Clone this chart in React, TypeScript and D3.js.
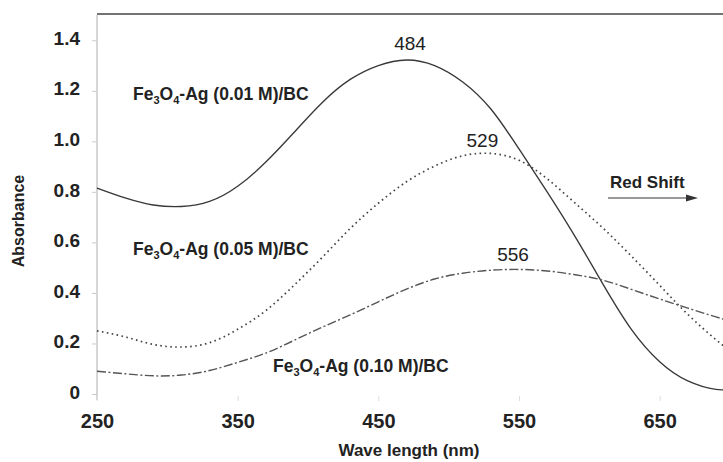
import React, { useEffect, useRef } from "react";
import * as d3 from "d3";

// wavelength grid (nm)
const wavelengths = [250, 270, 290, 310, 330, 350, 370, 390, 410, 430, 450, 470, 490, 510, 530, 550, 570, 590, 610, 630, 650, 670, 690, 700];

// absorbance
const ag001 = [0.815, 0.776, 0.748, 0.742, 0.762, 0.822, 0.918, 1.035, 1.153, 1.245, 1.3, 1.322, 1.3, 1.235, 1.128, 0.97, 0.8, 0.622, 0.432, 0.255, 0.128, 0.052, 0.018, 0.02];
const ag005 = [0.25, 0.226, 0.196, 0.186, 0.203, 0.256, 0.33, 0.43, 0.54, 0.655, 0.755, 0.84, 0.902, 0.943, 0.952, 0.925, 0.852, 0.755, 0.655, 0.545, 0.43, 0.315, 0.215, 0.172];
const ag010 = [0.09, 0.08, 0.072, 0.075, 0.093, 0.125, 0.162, 0.212, 0.264, 0.313, 0.365, 0.415, 0.455, 0.478, 0.49, 0.493, 0.487, 0.472, 0.45, 0.414, 0.376, 0.34, 0.305, 0.29];

const xTicks = [250, 350, 450, 550, 650];
const yTicks = [0, 0.2, 0.4, 0.6, 0.8, 1.0, 1.2, 1.4];

const peaks = [
  { label: "484", wl: 469, value: 1.322 },
  { label: "529", wl: 519, value: 0.952 },
  { label: "556", wl: 550, value: 0.493 },
];

const FONT = "'Liberation Sans', Arial, Helvetica, sans-serif";

function App() {
  const svgRef = useRef<SVGSVGElement>(null);
  const width = 723;
  const height = 462;

  useEffect(() => {
    const svg = d3.select(svgRef.current);
    svg.selectAll("*").remove();

    const x = d3.scaleLinear().domain([250, 700]).range([97, 730]);
    const y = d3.scaleLinear().domain([0, 1.5]).range([394, 15]);

    svg.append("rect").attr("width", width).attr("height", height).attr("fill", "#fff");

    // top frame line
    svg
      .append("line")
      .attr("x1", x(250))
      .attr("x2", width)
      .attr("y1", y(1.5) - 1)
      .attr("y2", y(1.5) - 1)
      .attr("stroke", "#444")
      .attr("stroke-width", 1.6);

    // y axis
    const yAxis = d3
      .axisLeft(y)
      .tickValues(yTicks)
      .tickSize(5)
      .tickPadding(12)
      .tickFormat((d) => (d === 0 ? "0" : d3.format(".1f")(d as number)));
    const gy = svg.append("g").attr("transform", `translate(${x(250)},0)`).call(yAxis);
    gy.select(".domain").attr("stroke", "#bbb").attr("stroke-width", 1.2).attr("d", `M0,${y(1.5)}V${y(0) + 6}`);
    gy.selectAll(".tick line").attr("stroke", "#ccc");
    gy.selectAll("text")
      .attr("font-family", FONT)
      .attr("font-size", 19)
      .attr("font-weight", "bold")
      .attr("fill", "#222")
      .attr("dy", "0.22em");

    // x axis (no visible baseline in the picture)
    const xAxis = d3.axisBottom(x).tickValues(xTicks).tickSize(5).tickPadding(13).tickFormat(d3.format("d"));
    const gx = svg.append("g").attr("transform", `translate(0,${y(0) + 2})`).call(xAxis);
    gx.select(".domain").remove();
    gx.selectAll(".tick line").attr("stroke", "#ddd");
    gx.selectAll("text")
      .attr("font-family", FONT)
      .attr("font-size", 20)
      .attr("font-weight", "bold")
      .attr("fill", "#222");

    // axis titles
    svg
      .append("text")
      .attr("transform", `translate(24,221) rotate(-90)`)
      .attr("text-anchor", "middle")
      .attr("font-family", FONT)
      .attr("font-size", 16)
      .attr("font-weight", "bold")
      .attr("fill", "#222")
      .text("Absorbance");
    svg
      .append("text")
      .attr("x", 409)
      .attr("y", 456)
      .attr("text-anchor", "middle")
      .attr("font-family", FONT)
      .attr("font-size", 17)
      .attr("font-weight", "bold")
      .attr("fill", "#222")
      .text("Wave length (nm)");

    // curves
    const line = d3
      .line<number>()
      .x((_, i) => x(wavelengths[i]))
      .y((d) => y(d))
      .curve(d3.curveNatural);

    const series = [
      { values: ag001, dash: null, color: "#383838", w: 1.35 },
      { values: ag005, dash: "1.6,3.4", color: "#444", w: 1.7 },
      { values: ag010, dash: "9,2.5,2,2.5", color: "#555", w: 1.4 },
    ];
    series.forEach((s) => {
      svg
        .append("path")
        .datum(s.values)
        .attr("d", line)
        .attr("fill", "none")
        .attr("stroke", s.color)
        .attr("stroke-width", s.w)
        .attr("stroke-dasharray", s.dash);
    });

    // peak labels
    const peakOffset = [10, 6, 8];
    peaks.forEach((p, i) => {
      svg
        .append("text")
        .attr("x", x(p.wl) + [5, 7, -6][i])
        .attr("y", y(p.value) - peakOffset[i])
        .attr("text-anchor", "middle")
        .attr("font-family", FONT)
        .attr("font-size", 19)
        .attr("fill", "#222")
        .text(p.label);
    });

    // sample labels with subscripts
    const sampleLabels = [
      { conc: "0.01", x: 133, y: 100 },
      { conc: "0.05", x: 133, y: 255 },
      { conc: "0.10", x: 273, y: 372 },
    ];
    sampleLabels.forEach((l) => {
      const t = svg
        .append("text")
        .attr("x", l.x)
        .attr("y", l.y)
        .attr("font-family", FONT)
        .attr("font-size", 17.5)
        .attr("font-weight", "bold")
        .attr("fill", "#222");
      t.append("tspan").text("Fe");
      t.append("tspan").attr("font-size", 11).attr("dy", 4).text("3");
      t.append("tspan").attr("dy", -4).text("O");
      t.append("tspan").attr("font-size", 11).attr("dy", 4).text("4");
      t.append("tspan").attr("dy", -4).text(`-Ag (${l.conc} M)/BC`);
    });

    // red shift arrow
    svg
      .append("text")
      .attr("x", 610)
      .attr("y", 188)
      .attr("font-family", FONT)
      .attr("font-size", 17)
      .attr("font-weight", "bold")
      .attr("fill", "#222")
      .text("Red Shift");
    svg
      .append("line")
      .attr("x1", 608)
      .attr("x2", 690)
      .attr("y1", 198)
      .attr("y2", 198)
      .attr("stroke", "#777")
      .attr("stroke-width", 1.4);
    svg
      .append("path")
      .attr("d", "M686,194.5L698,198L686,201.5Z")
      .attr("fill", "#333");
  }, []);

  return (
    <svg
      ref={svgRef}
      width={width}
      height={height}
      style={{ position: "absolute", left: 0, top: 0, background: "#fff" }}
    ></svg>
  );
}

export default App;
